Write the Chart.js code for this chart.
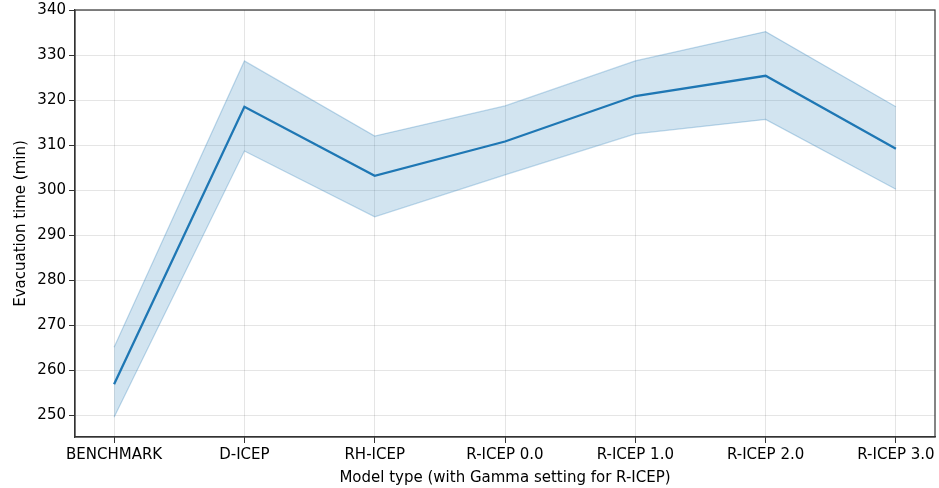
<!DOCTYPE html>
<html>
<head>
<meta charset="utf-8">
<script src="https://cdn.jsdelivr.net/npm/chart.js@4"></script>
<style>
  body { margin: 0; background: #fff; }
  #wrap { width: 939px; height: 488px; }
</style>
</head>
<body>
<div id="wrap"><canvas id="graphique"></canvas></div>
<script>
// Catégories et valeurs
const categories = ["BENCHMARK", "D-ICEP", "RH-ICEP", "R-ICEP 0.0", "R-ICEP 1.0", "R-ICEP 2.0", "R-ICEP 3.0"];
const moyenne = [256.9, 318.5, 303.2, 310.8, 320.9, 325.4, 309.2];
const borneHaute = [265.1, 328.7, 312.0, 318.7, 328.7, 335.2, 318.5];
const borneBasse = [249.6, 308.7, 294.1, 303.4, 312.5, 315.7, 300.2];
const yTicks = [250, 260, 270, 280, 290, 300, 310, 320, 330, 340];

const police = "'DejaVu Sans', sans-serif";
const bleu = "#1f77b4";

// Cadre complet autour de la zone du graphique (comme matplotlib)
const cadre = {
  id: "cadre",
  afterDraw(chart) {
    const a = chart.chartArea;
    const ctx = chart.ctx;
    ctx.save();
    ctx.strokeStyle = "#333";
    ctx.lineWidth = 1.2;
    ctx.strokeRect(a.left, a.top, a.right - a.left, a.bottom - a.top);
    ctx.restore();
  }
};

const points = arr => arr.map((v, i) => ({ x: i, y: v }));

const data = {
  datasets: [
    {
      data: points(borneHaute),
      borderColor: "rgba(31,119,180,0.28)",
      borderWidth: 1.2,
      backgroundColor: "rgba(31,119,180,0.2)",
      fill: "+1",
      pointRadius: 0,
      tension: 0,
    },
    {
      data: points(borneBasse),
      borderColor: "rgba(31,119,180,0.28)",
      borderWidth: 1.2,
      fill: false,
      pointRadius: 0,
      tension: 0,
    },
    {
      data: points(moyenne),
      borderColor: bleu,
      borderWidth: 2.3,
      fill: false,
      pointRadius: 0,
      tension: 0,
    },
  ],
};

const config = {
  type: "line",
  data: data,
  options: {
    responsive: true,
    maintainAspectRatio: false,
    animation: false,
    layout: { padding: { top: 10, right: 4, left: 12, bottom: 0 } },
    plugins: { legend: { display: false }, tooltip: { enabled: false } },
    scales: {
      x: {
        type: "linear",
        min: -0.3,
        max: 6.3,
        afterBuildTicks: s => { s.ticks = categories.map((c, i) => ({ value: i })); },
        afterFit: s => { s.height = 51; },
        ticks: {
          callback: v => categories[v],
          color: "#000",
          font: { family: police, size: 15 },
          padding: 3,
          maxRotation: 0,
          autoSkip: false,
        },
        grid: { color: "rgba(0,0,0,0.1)", tickColor: "#333", tickLength: 6 },
        border: { color: "#333", width: 1.2 },
        title: {
          display: true,
          text: "Model type (with Gamma setting for R-ICEP)",
          color: "#000",
          font: { family: police, size: 15 },
          padding: { top: 0, bottom: 1 },
        },
      },
      y: {
        min: 245.2,
        max: 340,
        afterBuildTicks: s => { s.ticks = yTicks.map(v => ({ value: v })); },
        afterFit: s => { s.width = 63; s.paddingTop = 0; s.paddingBottom = 0; },
        ticks: {
          color: "#000",
          font: { family: police, size: 15 },
          padding: 3,
        },
        grid: { color: "rgba(0,0,0,0.1)", tickColor: "#333", tickLength: 6 },
        border: { color: "#333", width: 1.2 },
        title: {
          display: true,
          text: "Evacuation time (min)",
          color: "#000",
          font: { family: police, size: 15 },
          padding: { top: 0, bottom: 2 },
        },
      },
    },
  },
  plugins: [cadre],
};

const graphique = new Chart(document.querySelector("#graphique"), config);
</script>
</body>
</html>
